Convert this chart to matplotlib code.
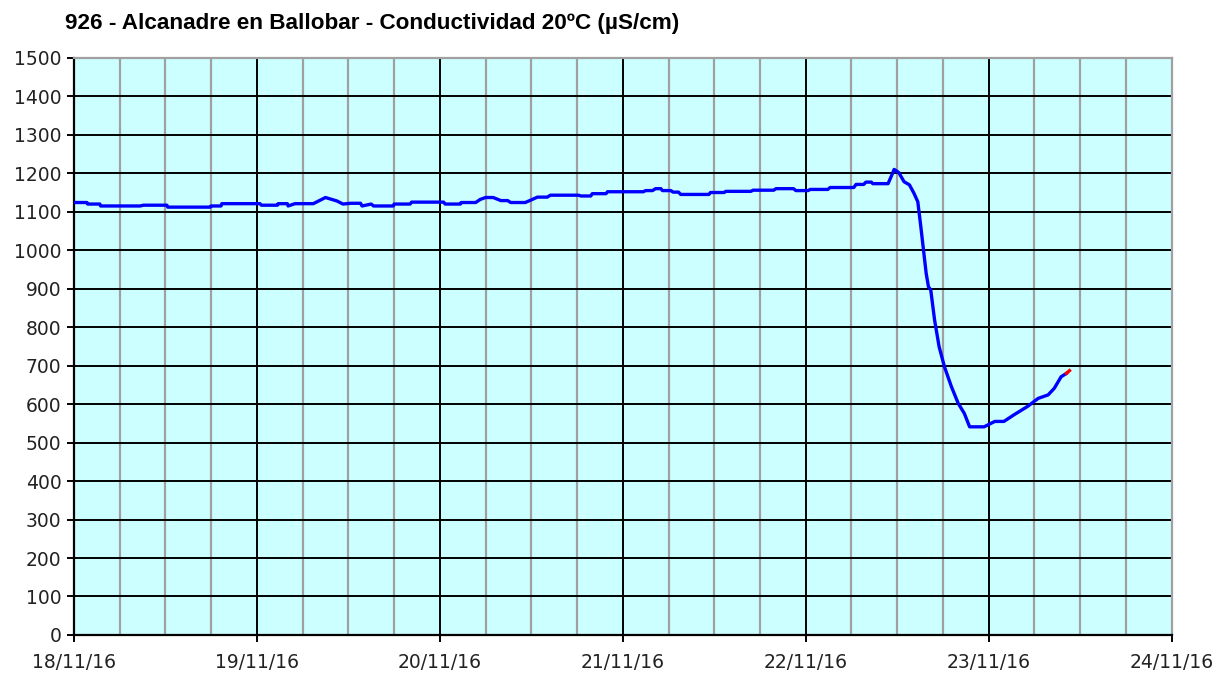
import numpy as np
import matplotlib
matplotlib.use('Agg')
import matplotlib.pyplot as plt
from matplotlib.ticker import MultipleLocator

# hours since 18/11/16 00:00 and conductivity readings (uS/cm)
hours = [0.1, 1.7, 1.8, 3.4, 3.5, 8.7, 9.1, 12.2, 12.3, 17.9, 18.0, 19.3, 19.4,
         24.4, 24.6, 26.7, 26.8, 28.0, 28.1, 29.0, 31.4, 33.0, 34.5, 35.3, 36.3,
         37.6, 37.8, 39.0, 39.3, 41.9, 42.0, 44.1, 44.3, 48.5, 48.7, 50.7, 50.8,
         52.7, 53.3, 54.0, 55.0, 56.0, 56.9, 57.3, 59.2, 59.9, 60.8, 62.1, 62.5,
         66.2, 66.5, 67.8, 68.0, 69.8, 70.0, 74.7, 75.0, 75.9, 76.3, 77.0, 77.2,
         78.3, 78.6, 79.3, 79.6, 83.3, 83.5, 85.3, 85.5, 88.8, 89.1, 91.8, 92.1,
         94.4, 94.7, 96.3, 96.6, 98.9, 99.2, 102.3, 102.6, 103.6, 103.9, 104.6,
         104.8, 106.8, 107.2, 107.6, 108.2, 108.9, 109.6, 110.2, 110.7, 111.1,
         111.4, 111.8, 112.1, 112.4, 112.9, 113.5, 114.2, 115.1, 116.0, 116.8,
         117.5, 119.4, 120.8, 122.0, 123.3, 125.1, 126.5, 127.8, 128.6, 129.5,
         130.2]
values = [1124, 1124, 1120, 1120, 1115, 1115, 1117, 1117, 1112, 1112, 1115, 1115, 1121,
          1121, 1117, 1117, 1121, 1121, 1115, 1121, 1121, 1137, 1128, 1120, 1122,
          1122, 1115, 1120, 1115, 1115, 1120, 1120, 1125, 1125, 1120, 1120, 1124,
          1124, 1132, 1137, 1137, 1129, 1129, 1124, 1124, 1130, 1138, 1138, 1143,
          1143, 1141, 1141, 1147, 1147, 1152, 1152, 1155, 1155, 1160, 1160, 1155,
          1155, 1151, 1151, 1145, 1145, 1150, 1150, 1153, 1153, 1156, 1156, 1160,
          1160, 1155, 1155, 1158, 1158, 1163, 1163, 1171, 1171, 1177, 1177,
          1173, 1173, 1191, 1210, 1202, 1178, 1170, 1148, 1126, 1061,
          1009, 940, 905, 897, 819, 749, 697, 646, 602, 576,
          541, 541, 555, 555, 572, 594, 615, 624, 641, 671,
          680]
# last (most recent) reading drawn in red
last_hour = 130.6
last_value = 687

day_labels = ['18/11/16', '19/11/16', '20/11/16', '21/11/16', '22/11/16', '23/11/16', '24/11/16']
title = '926 - Alcanadre en Ballobar - Conductividad 20ºC (µS/cm)'

fig = plt.figure(figsize=(12.32, 6.75), dpi=100)
ax = fig.add_axes([0.060, 0.0593, 0.891, 0.855])
ax.set_facecolor('#CCFFFF')

x = np.array(hours) / 24.0
ax.plot(x, values, color='#0000FF', lw=2.4, zorder=3, solid_joinstyle='round')
ax.plot([x[-1], last_hour / 24.0], [values[-1], last_value], color='#FF0000', lw=2.4, zorder=4)

ax.set_xlim(0, 6)
ax.set_ylim(0, 1500)
ax.set_xticks(range(7))
ax.set_xticklabels(day_labels)
ax.xaxis.set_minor_locator(MultipleLocator(0.25))
ax.yaxis.set_major_locator(MultipleLocator(100))

# grid: grey 6-hour lines, black day / 100 lines
ax.grid(which='minor', axis='x', color='#A0A0A0', lw=1.6, zorder=1)
ax.grid(which='major', axis='both', color='black', lw=1.4, zorder=2)
ax.set_axisbelow(True)

ax.tick_params(axis='both', which='major', direction='out', length=5, width=1.4,
               labelsize=13.5, colors='black', pad=4)
ax.tick_params(axis='x', which='minor', length=0)
ax.tick_params(axis='x', which='major', pad=8)
for lab in ax.get_xticklabels() + ax.get_yticklabels():
    lab.set_color('#222222')
    lab.set_family('DejaVu Sans')

for s in ['left', 'bottom']:
    ax.spines[s].set_color('black')
    ax.spines[s].set_linewidth(1.6)
for s in ['top', 'right']:
    ax.spines[s].set_color('#A0A0A0')
    ax.spines[s].set_linewidth(1.6)

fig.text(65 / 1232, 1 - 23 / 675, title, ha='left', va='center', fontsize=16.2,
         fontweight='bold', family=['Liberation Sans Narrow', 'Liberation Sans', 'DejaVu Sans'])

fig.savefig('out.png', dpi=100)
